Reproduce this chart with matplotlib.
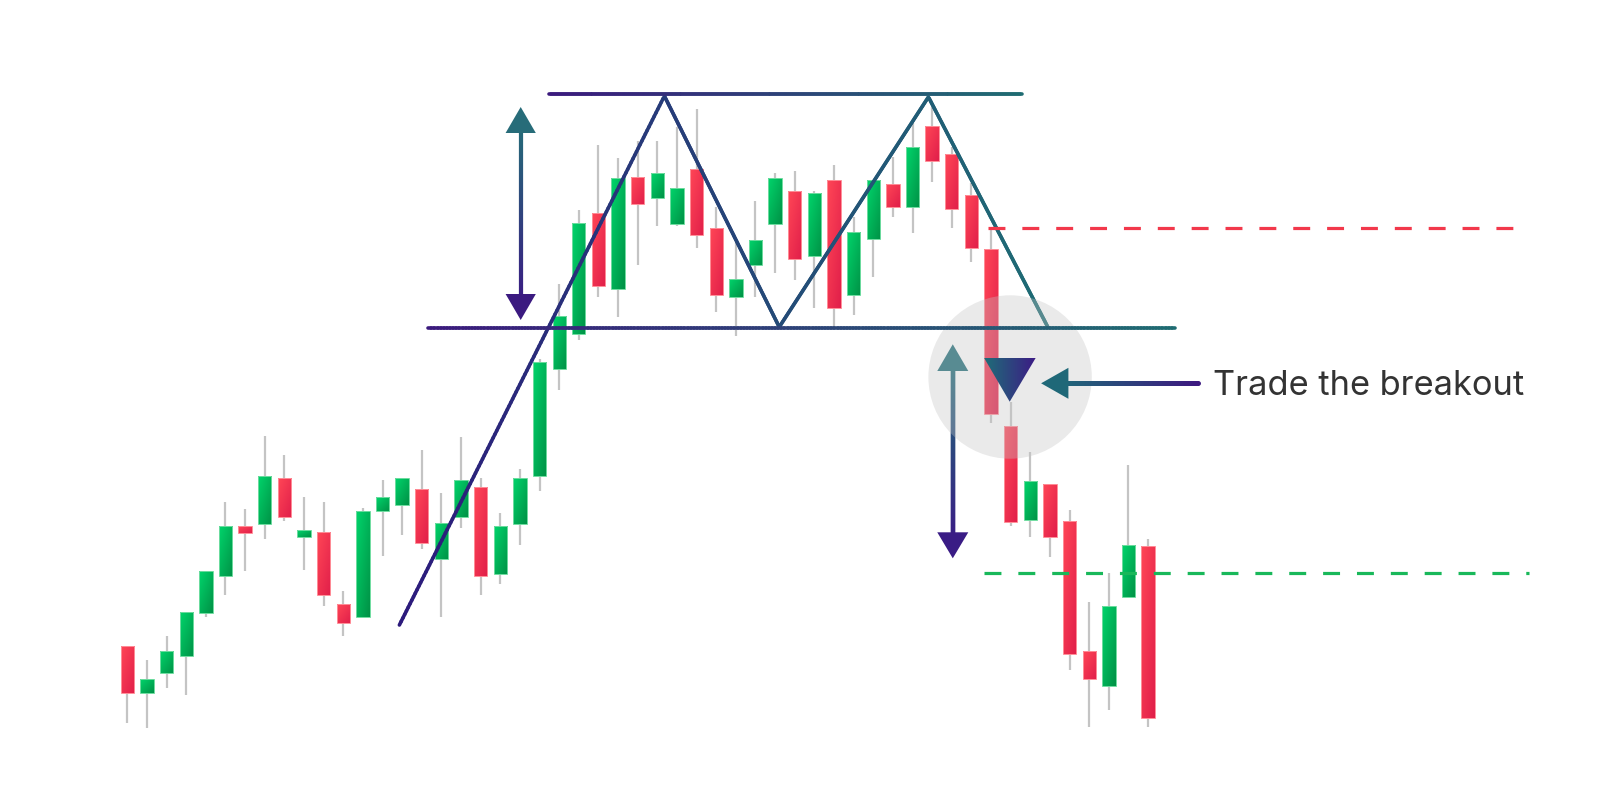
import numpy as np
import matplotlib
matplotlib.use("Agg")
import matplotlib.pyplot as plt
from matplotlib.collections import LineCollection
from matplotlib.colors import LinearSegmentedColormap
from matplotlib.patches import Rectangle, Polygon, Ellipse

# candle data (price units)
opens = [163, 116, 136, 153, 196, 233, 283, 285, 331, 272, 277, 205, 192, 298, 304, 320, 250, 292,
         322, 235, 285, 333, 440, 475, 596, 520, 632, 611, 585, 640, 581, 512, 544, 585, 618, 553,
         629, 514, 570, 625, 602, 683, 655, 614, 560, 383, 289, 325, 288, 158, 123, 212, 263]
highs = [163, 149, 173, 197, 238, 307, 300, 373, 354, 312, 307, 218, 301, 329, 331, 359, 316, 372,
         331, 296, 340, 450, 525, 599, 664, 651, 668, 668, 682, 700, 602, 569, 608, 636, 638, 618,
         644, 592, 629, 652, 686, 702, 662, 626, 579, 407, 357, 325, 299, 207, 236, 344, 270]
lows = [86, 81, 121, 114, 192, 214, 238, 270, 288, 239, 203, 173, 192, 253, 274, 260, 192, 281,
        214, 225, 264, 318, 419, 469, 512, 492, 544, 583, 583, 561, 497, 473, 512, 536, 529, 501,
        482, 494, 532, 592, 576, 627, 581, 547, 386, 283, 272, 252, 139, 82, 99, 212, 82]
closes = [116, 130, 158, 197, 238, 283, 276, 333, 292, 279, 214, 186, 298, 312, 331, 266, 286, 329,
          233, 283, 331, 447, 493, 586, 523, 631, 605, 636, 621, 574, 514, 530, 569, 631, 550, 616,
          501, 577, 629, 602, 662, 648, 600, 561, 395, 287, 328, 272, 155, 130, 203, 264, 91]

# pattern levels
resistance = 715
neckline = 481
target_up = 581
target_down = 236
label = "Trade the breakout"

PURPLE = "#3a1c83"
TEAL = "#1f6d78"


def grad_line(ax, xs, ys, c0, c1, lw, z, along="x"):
    k = np.arange(len(xs))
    s = np.linspace(0, len(xs) - 1, 120 * len(xs))
    px = np.interp(s, k, xs)
    py = np.interp(s, k, ys)
    v = px if along == "x" else py
    f = (v - v.min()) / (v.max() - v.min())
    cmap = LinearSegmentedColormap.from_list("g", [c0, c1])
    pts = np.column_stack([px, py])
    segs = np.stack([pts[:-1], pts[1:]], axis=1)
    lc = LineCollection(segs, colors=cmap((f[:-1] + f[1:]) / 2), linewidths=lw,
                        zorder=z, capstyle="round")
    ax.add_collection(lc)


def grad_patch(ax, poly, c0, c1, extent, z, mode="h"):
    n = 32
    u = np.linspace(0, 1, n)
    if mode == "h":
        arr = np.tile(u, (n, 1))
    else:
        arr = (u[None, :] + u[:, None]) / 2
    cmap = LinearSegmentedColormap.from_list("p", [c0, c1])
    im = ax.imshow(arr, cmap=cmap, extent=extent, origin="upper", aspect="auto",
                   interpolation="bilinear", zorder=z)
    poly.set_transform(ax.transData)
    im.set_clip_path(poly)


def arrow_head(ax, x, tip, base, hw, color, z):
    ax.add_patch(Polygon([(x - hw, base), (x + hw, base), (x, tip)], closed=True,
                         facecolor=color, edgecolor="none", zorder=z))


fig = plt.figure(figsize=(16, 8.09), dpi=100)
ax = fig.add_axes([0, 0, 1, 1])
ax.set_axis_off()

# candles
w = 0.68
for i, (o, h, l, c) in enumerate(zip(opens, highs, lows, closes)):
    up = c >= o
    ax.plot([i, i], [l, h], color="#c4c4c4", lw=1.6, zorder=2, solid_capstyle="butt")
    lo, hi = min(o, c), max(o, c)
    if up:
        c0, c1, ec = "#00d46b", "#009246", "#6fdca0"
    else:
        c0, c1, ec = "#ff4656", "#e11f4a", "#ff8e98"
    rect = Rectangle((i - w / 2, lo), w, hi - lo)
    grad_patch(ax, rect, c0, c1, (i - w / 2, i + w / 2, lo, hi), 3, mode="d")
    ax.add_patch(Rectangle((i - w / 2, lo), w, hi - lo, facecolor="none",
                           edgecolor=ec, lw=0.7, zorder=3.1))

# double top outline
grad_line(ax, [13.86, 27.36, 33.21, 40.81, 46.89], [184, 713, 482, 712, 482],
          "#2c1a7c", "#1e6c74", 2.6, 4)

# horizontal levels
grad_line(ax, [21.48, 45.56], [resistance, resistance], "#3b1a7d", "#1f6c72", 2.6, 6)
grad_line(ax, [15.33, 53.37], [neckline, neckline], "#3b1a7d", "#1f6c72", 2.6, 6)
ax.plot([43.86, 71.4], [target_up, target_up], color="#f2384b", lw=2.3,
        dashes=(5.3, 5.3), zorder=6)
ax.plot([43.66, 71.4], [target_down, target_down], color="#19b85a", lw=2.3,
        dashes=(5.3, 5.3), zorder=6)

# pattern height arrow
grad_line(ax, [20.04, 20.04], [510, 682], PURPLE, "#256b78", 3.0, 4, along="y")
arrow_head(ax, 20.04, 702, 676, 0.77, "#276c79", 4)
arrow_head(ax, 20.04, 489, 515, 0.77, "#3b1a80", 4)

# projected move arrow
grad_line(ax, [42.05, 42.05], [270, 445], "#3a1c85", "#1f6d78", 3.2, 4, along="y")
arrow_head(ax, 42.05, 464.7, 438, 0.79, "#1f6d78", 4)
arrow_head(ax, 42.05, 250.7, 276.7, 0.79, "#3a1c85", 4)

# highlight circle
ax.add_patch(Ellipse((44.97, 432), 163.4 / 19.63, 163.4, facecolor="#c4c4c4",
                     edgecolor="none", alpha=0.35, zorder=5))

# breakout marker
tri = Polygon([(43.64, 451.3), (46.28, 451.3), (44.95, 407.3)], closed=True)
grad_patch(ax, tri, "#1f6d78", "#3c1c85", (43.64, 46.28, 407.3, 451.3), 7, mode="h")

# pointer arrow + label
grad_line(ax, [47.6, 54.54], [425.7, 425.7], "#1f6878", "#3d1a80", 3.6, 7)
ax.add_patch(Polygon([(46.55, 425.7), (47.94, 441.2), (47.94, 410.2)], closed=True,
                     facecolor="#1f6878", edgecolor="none", zorder=7))
ax.text(55.32, 414, label, fontsize=24.8, family="Inter", color="#333333",
        ha="left", va="baseline", zorder=8)

ax.set_xlim(-6.485, 75.02)
ax.set_ylim(0, 809)
fig.savefig("out.png", dpi=100, facecolor="white")
